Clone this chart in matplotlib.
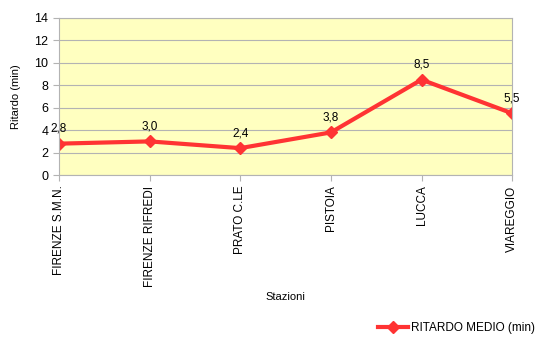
import matplotlib
matplotlib.use("Agg")
import matplotlib.pyplot as plt

plt.rcParams['font.family'] = ['Liberation Sans', 'DejaVu Sans']

stazioni = ["FIRENZE S.M.N.", "FIRENZE RIFREDI", "PRATO C.LE", "PISTOIA", "LUCCA", "VIAREGGIO"]
ritardo = [2.8, 3.0, 2.4, 3.8, 8.5, 5.5]

fig = plt.figure(figsize=(5.46, 3.38), dpi=100)
ax = fig.add_axes([0.108, 0.482, 0.83, 0.465])
ax.set_facecolor("#ffffc0")

x = range(len(stazioni))
line, = ax.plot(x, ritardo, color="#ff3333", lw=3, marker="D", ms=6, label="RITARDO MEDIO (min)")
for xi, v in zip(x, ritardo):
    ax.text(xi, v + 0.8, f"{v:.1f}".replace(".", ","), ha="center", va="bottom", fontsize=8.5)

ax.set_xlim(0, len(stazioni) - 1)
ax.set_ylim(0, 14)
ax.set_yticks(range(0, 15, 2))
ax.yaxis.grid(True, color="#b3b3b3", lw=0.8)
ax.set_axisbelow(True)
ax.set_xticks(list(x))
ax.set_xticklabels(stazioni, rotation=90, fontsize=8.5)
ax.tick_params(axis="y", labelsize=9, color="#b3b3b3", length=4)
ax.tick_params(axis="x", color="#b3b3b3", length=4)
for s in ax.spines.values():
    s.set_color("#b3b3b3")
ax.set_ylabel("Ritardo (min)", fontsize=8, labelpad=10)
ax.set_xlabel("Stazioni", fontsize=8)
for t in ax.texts:
    t.set_clip_on(False)

fig.legend(handles=[line], loc="lower right", bbox_to_anchor=(1.0, -0.02), frameon=False, fontsize=8.5,
           handlelength=2.5, handletextpad=0.3)

fig.savefig("out.png", dpi=100)
